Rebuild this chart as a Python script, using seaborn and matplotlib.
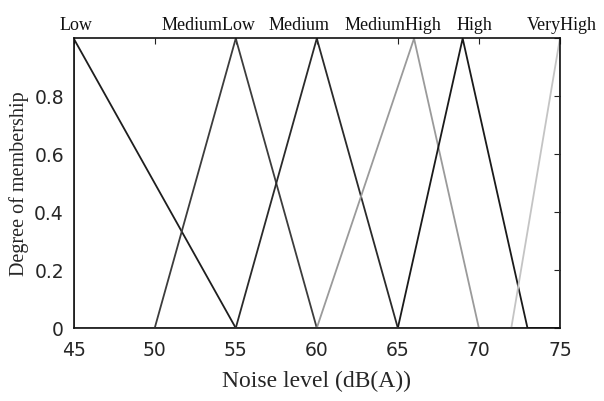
import numpy as np
import pandas as pd
import matplotlib
matplotlib.use("Agg")
import matplotlib.pyplot as plt
import seaborn as sns

# Membership function names and triangular parameters (a, b, c)
names = ["Low", "MediumLow", "Medium", "MediumHigh", "High", "VeryHigh"]
mf_a = [45, 50, 55, 60, 65, 72]
mf_b = [45, 55, 60, 66, 69, 75]
mf_c = [55, 60, 65, 70, 73, 75]
x_ticks = [45, 50, 55, 60, 65, 70, 75]
y_ticks = [0, 0.2, 0.4, 0.6, 0.8, 1.0]
y_ticklabels = ["0", "0.2", "0.4", "0.6", "0.8", ""]

colors = ["#1e1e1e", "#3c3c3c", "#2a2a2a", "#9a9a9a", "#1a1a1a", "#c4c4c4"]

rows = []
for n, a, b, c in zip(names, mf_a, mf_b, mf_c):
    xs = [45, a, b, c, 75]
    ys = [0.0, 0.0, 1.0, 0.0, 0.0]
    if a == b:
        ys[1] = 1.0
    for i, (xv, yv) in enumerate(zip(xs, ys)):
        rows.append({"mf": n, "x": xv, "y": yv, "order": i})
df = pd.DataFrame(rows)

sns.set_style("white")
plt.rcParams["font.family"] = ["Liberation Serif", "DejaVu Serif"]

fig = plt.figure(figsize=(6.04, 4.01), dpi=100)
ax = fig.add_axes([0.122, 0.182, 0.805, 0.722])

for n, col in zip(names, colors):
    sub = df[df["mf"] == n]
    sns.lineplot(data=sub, x="x", y="y", sort=False, estimator=None,
                 color=col, linewidth=1.3, ax=ax, legend=False)

ax.set_xlim(45, 75)
ax.set_ylim(0, 1)
ax.set_xticks(x_ticks)
ax.set_yticks(y_ticks)
tick_font = ["DejaVu Sans"]
ax.set_xticklabels([str(t) for t in x_ticks], family=tick_font, fontsize=13.5)
ax.set_yticklabels(y_ticklabels, family=tick_font, fontsize=13.5)
ax.tick_params(direction="in", length=4, top=True, right=True, color="#222")
ax.tick_params(axis="x", pad=9)
ax.tick_params(axis="y", pad=7)
for s in ax.spines.values():
    s.set_visible(True)
    s.set_color("#111")
    s.set_linewidth(1.2)

ax.set_xlabel("Noise level (dB(A))", fontsize=17, labelpad=8)
ax.set_ylabel("Degree of membership", fontsize=14.5, labelpad=4)

# labels above each membership function
offsets = [-0.9, -1.7, -1.1, -1.3, 0.7, 0.1]
aligns = ["left", "center", "center", "center", "center", "center"]
for n, b, off, ha in zip(names, mf_b, offsets, aligns):
    ax.text(b + off, 1.015, n, ha=ha, va="bottom", fontsize=13, color="#111",
            clip_on=False)

fig.savefig("out.png", dpi=100)
